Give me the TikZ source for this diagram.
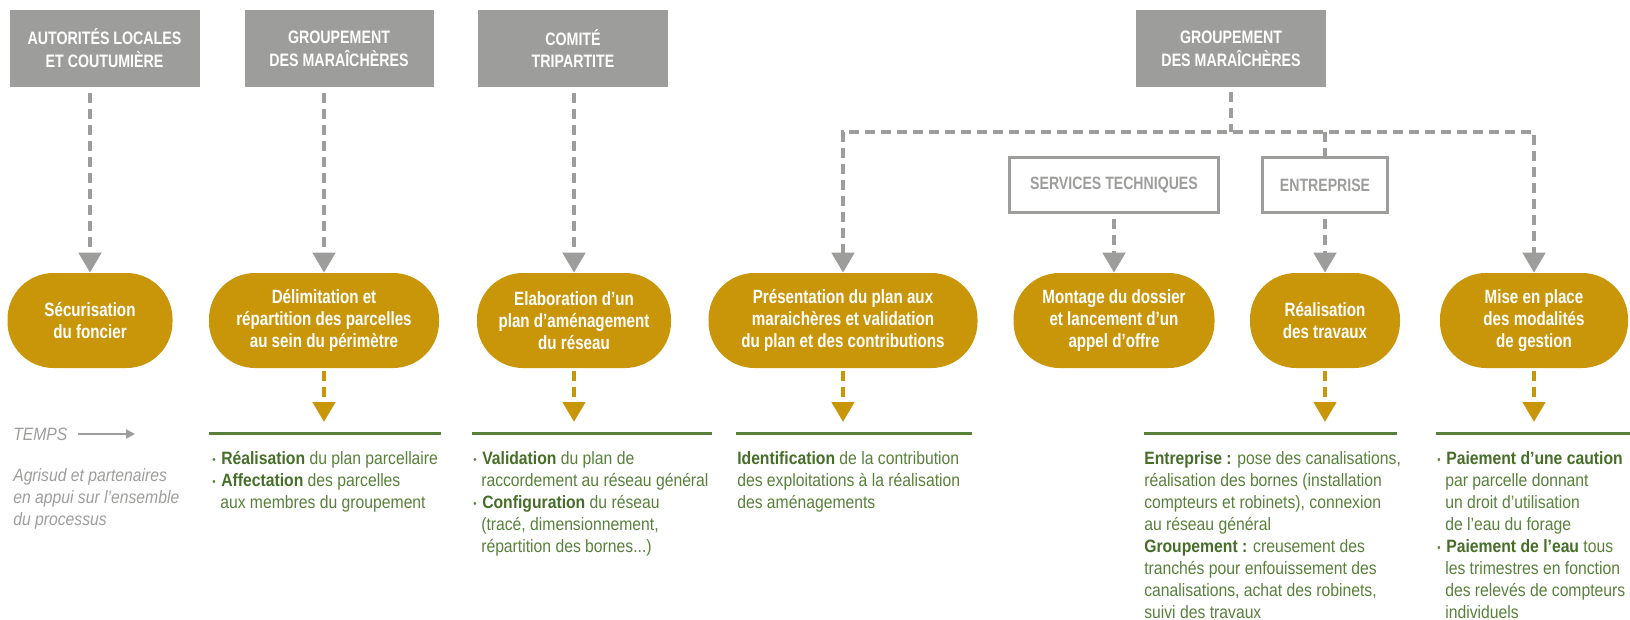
\documentclass[tikz,border=0pt]{standalone}
\usepackage{fontspec}
\setmainfont[FakeStretch=0.88]{Liberation Sans}
\newfontfamily\headfont[FakeStretch=0.79]{Liberation Sans}
\usetikzlibrary{arrows.meta}
\definecolor{boxgray}{RGB}{157,157,156}
\definecolor{gold}{RGB}{201,150,10}
\definecolor{leaf}{RGB}{88,128,58}
\definecolor{leafdark}{RGB}{70,110,40}
\newcommand\bul{\makebox[6.75pt][l]{\raisebox{0.6pt}{\fontsize{8}{8}\selectfont\textbullet}}}
\newcommand\ind{\hspace*{6pt}}
\newcommand\bb[1]{\textcolor{leafdark}{\bfseries #1}}
\begin{document}
\begin{tikzpicture}[x=0.75pt,y=-0.75pt,
  topbox/.style={fill=boxgray, text=white, inner sep=0pt, align=center, minimum height=57.75pt,
    font=\headfont\bfseries\fontsize{13.5}{17.2}\selectfont},
  outbox/.style={draw=boxgray, line width=2.25pt, fill=white, text=boxgray, inner sep=0pt,
    minimum height=41.25pt, font=\headfont\bfseries\fontsize{13.4}{15}\selectfont},
  pill/.style={fill=gold, text=white, rounded corners=34.5pt, minimum height=71.25pt, inner sep=0pt,
    align=center, font=\headfont\bfseries\fontsize{14.4}{16.3}\selectfont},
  graydash/.style={draw=boxgray, line width=3.375pt, dash pattern=on 7.5pt off 4.5pt},
  grayarrow/.style={graydash, -{Triangle[length=15pt,width=16.5pt]}},
  golddash/.style={draw=gold, line width=3.375pt, dash pattern=on 7.5pt off 4.5pt,
    -{Triangle[length=15pt,width=16.5pt]}},
  greenline/.style={draw=leaf, line width=2.25pt},
  bodytext/.style={anchor=base west, inner sep=0pt, text=leaf},
  graytext/.style={inner sep=0pt, text=boxgray, font=\itshape\fontsize{13.4}{16.5}\selectfont}
]
\useasboundingbox (0,0) rectangle (1630,620);

% top boxes
\node[topbox, minimum width=142.5pt] (b1) at (104.5,48.5) {AUTORITÉS LOCALES\\ET COUTUMIÈRE};
\node[topbox, minimum width=141.75pt] (b2) at (339,48.5) {GROUPEMENT\\DES MARAÎCHÈRES};
\node[topbox, minimum width=142.5pt] (b3) at (573,48.5) {COMITÉ\\TRIPARTITE};
\node[topbox, minimum width=142.5pt] (b4) at (1231,48.5) {GROUPEMENT\\DES MARAÎCHÈRES};

% outlined boxes
\node[outbox, minimum width=156.75pt] (svc) at (1114,185.5) {SERVICES TECHNIQUES};
\node[outbox, minimum width=93.75pt] (ent) at (1325,185.5) {ENTREPRISE};

% pills
\node[pill, minimum width=123.75pt] (p1) at (90,320.5) {Sécurisation\\du foncier};
\node[pill, minimum width=172.5pt] (p2) at (324,320.5) {Délimitation et\\répartition des parcelles\\au sein du périmètre};
\node[pill, minimum width=145.5pt] (p3) at (574,320.5) {Elaboration d’un\\plan d’aménagement\\du réseau};
\node[pill, minimum width=201.75pt] (p4) at (843,320.5) {Présentation du plan aux\\maraichères et validation\\du plan et des contributions};
\node[pill, minimum width=150.75pt] (p5) at (1114,320.5) {Montage du dossier\\et lancement d’un\\appel d’offre};
\node[pill, minimum width=112.5pt] (p6) at (1325,320.5) {Réalisation\\des travaux};
\node[pill, minimum width=141pt] (p7) at (1534,320.5) {Mise en place\\des modalités\\de gestion};

% gray connectors
\draw[grayarrow, shorten <=4.5pt] (b1.south -| p1.north) -- (p1.north);
\draw[grayarrow, shorten <=4.5pt] (b2.south -| p2.north) -- (p2.north);
\draw[grayarrow, shorten <=4.5pt] (b3.south -| p3.north) -- (p3.north);
\coordinate (hl) at (843,132);
\draw[graydash, shorten <=3.75pt] (b4.south) -- (b4.south |- hl);
\draw[graydash, {Triangle[length=15pt,width=16.5pt]}-{Triangle[length=15pt,width=16.5pt]}]
  (p4.north) -- (p4.north |- hl) -- (p7.north |- hl) -- (p7.north);
\draw[graydash] (ent.north |- hl) -- (ent.north);
\draw[grayarrow, shorten <=3.75pt] (svc) -- (p5);
\draw[grayarrow, shorten <=3.75pt] (ent) -- (p6);

% gold connectors
\coordinate (g2) at (324,422);
\coordinate (g3) at (574,422);
\coordinate (g4) at (843,422);
\coordinate (g6) at (1325,422);
\coordinate (g7) at (1534,422);
\draw[golddash, shorten <=2.25pt] (p2) -- (g2);
\draw[golddash, shorten <=2.25pt] (p3) -- (g3);
\draw[golddash, shorten <=2.25pt] (p4) -- (g4);
\draw[golddash, shorten <=2.25pt] (p6) -- (g6);
\draw[golddash, shorten <=2.25pt] (p7) -- (g7);

% green rules
\draw[greenline] (209,433) -- (441,433);
\draw[greenline] (472,433) -- (712,433);
\draw[greenline] (736,433) -- (972,433);
\draw[greenline] (1144,433) -- (1397,433);
\draw[greenline] (1436,433) -- (1630,433);

% time label
\node[graytext, anchor=west] (temps) at (13,434) {TEMPS};
\coordinate (tend) at (135,434);
\draw[draw=boxgray, line width=1.5pt, shorten <=7.5pt, -{Triangle[length=6.75pt,width=6.75pt]}] (temps) -- (tend);
\node[graytext, anchor=base west] (agri) at (13,481) {%
  \begin{tabular}[t]{@{}l@{}}Agrisud et partenaires\\en appui sur l’ensemble\\du processus\end{tabular}};

% body texts
\begin{scope}[every node/.style={bodytext, font=\fontsize{13.4}{16.5}\selectfont}]
\node (t1) at (212,464) {\begin{tabular}[t]{@{}l@{}}%
\bul\bb{Réalisation} du plan parcellaire\\
\bul\bb{Affectation} des parcelles\\
\ind aux membres du groupement\end{tabular}};
\node (t2) at (473,464) {\begin{tabular}[t]{@{}l@{}}%
\bul\bb{Validation} du plan de\\
\ind raccordement au réseau général\\
\bul\bb{Configuration} du réseau\\
\ind (tracé, dimensionnement,\\
\ind répartition des bornes...)\end{tabular}};
\node (t3) at (737,464) {\begin{tabular}[t]{@{}l@{}}%
\bb{Identification} de la contribution\\
des exploitations à la réalisation\\
des aménagements\end{tabular}};
\node (t4) at (1144,464) {\begin{tabular}[t]{@{}l@{}}%
\bb{Entreprise :} pose des canalisations,\\
réalisation des bornes (installation\\
compteurs et robinets), connexion\\
au réseau général\\
\bb{Groupement :} creusement des\\
tranchés pour enfouissement des\\
canalisations, achat des robinets,\\
suivi des travaux\end{tabular}};
\node (t5) at (1437,464) {\begin{tabular}[t]{@{}l@{}}%
\bul\bb{Paiement d’une caution}\\
\ind par parcelle donnant\\
\ind un droit d’utilisation\\
\ind de l’eau du forage\\
\bul\bb{Paiement de l’eau} tous\\
\ind les trimestres en fonction\\
\ind des relevés de compteurs\\
\ind individuels\end{tabular}};
\end{scope}
\end{tikzpicture}
\end{document}
